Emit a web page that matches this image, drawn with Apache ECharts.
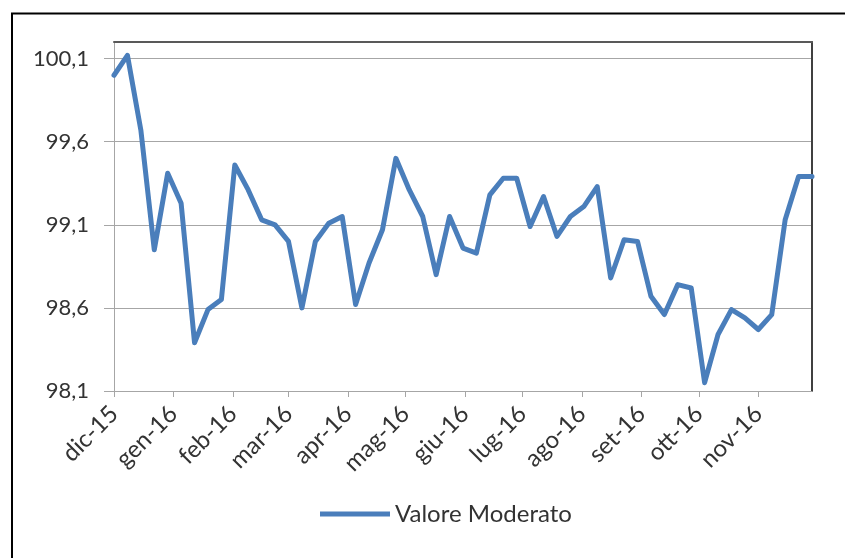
<!DOCTYPE html>
<html>
<head>
<meta charset="utf-8">
<script src="https://cdn.jsdelivr.net/npm/echarts@6/dist/echarts.min.js"></script>
<style>
html,body{margin:0;padding:0;background:#fff;}
#chart{width:845px;height:558px;}
</style>
</head>
<body>
<div id="chart"></div>
<script>
// ---- data ----
const dates = [
 '2015-12-01','2015-12-08','2015-12-15','2015-12-22','2015-12-29',
 '2016-01-05','2016-01-12','2016-01-19','2016-01-26',
 '2016-02-02','2016-02-09','2016-02-16','2016-02-23',
 '2016-03-01','2016-03-08','2016-03-15','2016-03-22','2016-03-29',
 '2016-04-05','2016-04-12','2016-04-19','2016-04-26',
 '2016-05-03','2016-05-10','2016-05-17','2016-05-24','2016-05-31',
 '2016-06-07','2016-06-14','2016-06-21','2016-06-28',
 '2016-07-05','2016-07-12','2016-07-19','2016-07-26',
 '2016-08-02','2016-08-09','2016-08-16','2016-08-23','2016-08-30',
 '2016-09-06','2016-09-13','2016-09-20','2016-09-27',
 '2016-10-04','2016-10-11','2016-10-18','2016-10-25',
 '2016-11-01','2016-11-08','2016-11-15','2016-11-22','2016-11-29'
];
const valoreModerato = [
 100.00,100.12,99.67,98.95,99.41,
 99.23,98.39,98.59,98.65,
 99.46,99.31,99.13,99.10,
 99.00,98.60,99.00,99.11,99.15,
 98.62,98.87,99.07,99.50,
 99.31,99.15,98.80,99.15,98.96,
 98.93,99.28,99.38,99.38,
 99.09,99.27,99.03,99.15,
 99.21,99.33,98.78,99.01,99.00,
 98.67,98.56,98.74,98.72,
 98.15,98.44,98.59,98.54,
 98.47,98.56,99.13,99.39,99.39
];
const monthTicks = ['2015-12-01','2016-01-01','2016-02-01','2016-03-01','2016-04-01','2016-05-01',
 '2016-06-01','2016-07-01','2016-08-01','2016-09-01','2016-10-01','2016-11-01'];
const monthLabels = ['dic-15','gen-16','feb-16','mar-16','apr-16','mag-16',
 'giu-16','lug-16','ago-16','set-16','ott-16','nov-16'];
const yTicks = [98.1, 98.6, 99.1, 99.6, 100.1];
const yTickLabels = ['98,1','98,6','99,1','99,6','100,1'];
const seriesName = 'Valore Moderato';

// ---- helpers ----
function toTime(s){ const p = s.split('-').map(Number); return Date.UTC(p[0], p[1]-1, p[2]); }
const monthTickTimes = monthTicks.map(toTime);
const seriesData = dates.map((d,i)=>[toTime(d), valoreModerato[i]]);
const xMin = toTime(dates[0]);
const xMax = toTime(dates[dates.length-1]);
const yMin = 98.1, yMax = 100.2;

const FONT = 'Lato';
const chart = echarts.init(document.getElementById('chart'), null, {renderer:'canvas'});
chart.setOption({
  animation:false,
  backgroundColor:'#fff',
  textStyle:{fontFamily:FONT},
  graphic:[{
    type:'rect', silent:true,
    shape:{x:12, y:13.5, width:900, height:600},
    style:{fill:'none', stroke:'#000', lineWidth:2}
  }],
  grid:{left:114, right:33, top:42, bottom:167, containLabel:false},
  legend:{
    left:315, top:497,
    icon:'rect', itemWidth:70, itemHeight:5, itemGap:10,
    textStyle:{fontFamily:FONT, fontSize:24, color:'#333'},
    data:[seriesName]
  },
  xAxis:[{
    type:'value', min:xMin, max:xMax,
    axisLine:{show:true, lineStyle:{color:'#a6a6a6', width:1}},
    axisTick:{show:true, length:6, lineStyle:{color:'#a6a6a6'}, customValues:monthTickTimes},
    axisLabel:{
      customValues:monthTickTimes,
      rotate:45, margin:19, fontFamily:FONT, fontSize:24, color:'#333',
      formatter:function(v){
        for (let i=0;i<monthTickTimes.length;i++){ if (Math.abs(monthTickTimes[i]-v) < 3600000) return monthLabels[i]; }
        return '';
      }
    },
    splitLine:{show:false}
  },{
    type:'value', position:'top', min:xMin, max:xMax,
    axisLine:{show:true, lineStyle:{color:'#595959', width:2}},
    axisTick:{show:false}, axisLabel:{show:false}, splitLine:{show:false}
  }],
  yAxis:[{
    type:'value', min:yMin, max:yMax,
    axisLine:{show:true, lineStyle:{color:'#a6a6a6', width:1}},
    axisTick:{show:true, length:10, lineStyle:{color:'#a6a6a6'}, customValues:yTicks},
    axisLabel:{
      customValues:yTicks, margin:25, fontFamily:FONT, fontSize:22, color:'#333',
      formatter:function(v){
        for (let i=0;i<yTicks.length;i++){ if (Math.abs(yTicks[i]-v) < 1e-6) return yTickLabels[i]; }
        return '';
      }
    },
    splitLine:{show:true, lineStyle:{color:'#a6a6a6', width:1}}
  },{
    type:'value', position:'right', min:yMin, max:yMax,
    axisLine:{show:true, lineStyle:{color:'#404040', width:2}},
    axisTick:{show:false}, axisLabel:{show:false}, splitLine:{show:false}
  }],
  series:[{
    name:seriesName, type:'line', data:seriesData,
    xAxisIndex:0, yAxisIndex:0,
    showSymbol:false, symbol:'none', smooth:false,
    lineStyle:{color:'#4A7EBB', width:5, join:'round', cap:'round'},
    itemStyle:{color:'#4A7EBB'}
  }]
});
</script>
</body>
</html>
